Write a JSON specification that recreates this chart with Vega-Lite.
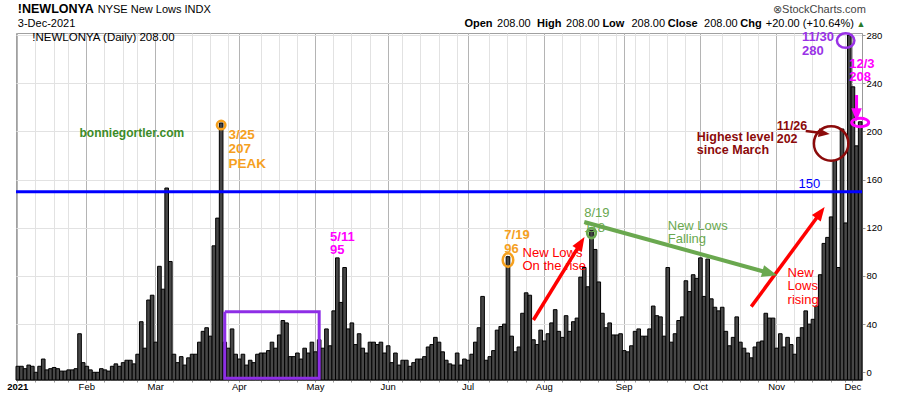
{
"$schema": "https://vega.github.io/schema/vega-lite/v6.json",
"width": 846, "height": 347,
"autosize": {"type": "none"},
"padding": {"left": 16, "top": 33, "right": 38, "bottom": 16},
"background": "#ffffff",
"params": [{"name": "ms", "value": ["2021-01-04","2021-02-01","2021-03-01","2021-04-01","2021-05-03","2021-06-01","2021-07-01","2021-08-02","2021-09-01","2021-10-01","2021-11-01","2021-12-01"]}],
"config": {"font": "Liberation Sans", "view": {"stroke": "#a0a0a0", "strokeWidth": 1}},
"datasets": {
"bars": [
{"d":"2021-01-04","v":5},{"d":"2021-01-05","v":5},{"d":"2021-01-06","v":3},{"d":"2021-01-07","v":6},{"d":"2021-01-08","v":5},
{"d":"2021-01-11","v":0},{"d":"2021-01-12","v":5},{"d":"2021-01-13","v":11},{"d":"2021-01-14","v":2},{"d":"2021-01-15","v":3},
{"d":"2021-01-19","v":4},{"d":"2021-01-20","v":3},{"d":"2021-01-21","v":1},{"d":"2021-01-22","v":1},
{"d":"2021-01-25","v":2},{"d":"2021-01-26","v":2},{"d":"2021-01-27","v":3},{"d":"2021-01-28","v":32},{"d":"2021-01-29","v":8},
{"d":"2021-02-01","v":5},{"d":"2021-02-02","v":2},{"d":"2021-02-03","v":0},{"d":"2021-02-04","v":0},{"d":"2021-02-05","v":3},
{"d":"2021-02-08","v":2},{"d":"2021-02-09","v":1},{"d":"2021-02-10","v":5},{"d":"2021-02-11","v":7},{"d":"2021-02-12","v":5},
{"d":"2021-02-16","v":8},{"d":"2021-02-17","v":10},{"d":"2021-02-18","v":10},{"d":"2021-02-19","v":7},
{"d":"2021-02-22","v":15},{"d":"2021-02-23","v":42},{"d":"2021-02-24","v":20},{"d":"2021-02-25","v":60},{"d":"2021-02-26","v":64},
{"d":"2021-03-01","v":25},{"d":"2021-03-02","v":88},{"d":"2021-03-03","v":69},{"d":"2021-03-04","v":153},{"d":"2021-03-05","v":92},
{"d":"2021-03-08","v":15},{"d":"2021-03-09","v":8},{"d":"2021-03-10","v":13},{"d":"2021-03-11","v":6},{"d":"2021-03-12","v":12},
{"d":"2021-03-15","v":15},{"d":"2021-03-16","v":15},{"d":"2021-03-17","v":25},{"d":"2021-03-18","v":34},{"d":"2021-03-19","v":37},
{"d":"2021-03-22","v":30},{"d":"2021-03-23","v":105},{"d":"2021-03-24","v":128},{"d":"2021-03-25","v":207},{"d":"2021-03-26","v":25},
{"d":"2021-03-29","v":20},{"d":"2021-03-30","v":36},{"d":"2021-03-31","v":15},
{"d":"2021-04-01","v":11},{"d":"2021-04-05","v":15},{"d":"2021-04-06","v":6},{"d":"2021-04-07","v":10},{"d":"2021-04-08","v":8},{"d":"2021-04-09","v":15},
{"d":"2021-04-12","v":16},{"d":"2021-04-13","v":16},{"d":"2021-04-14","v":18},{"d":"2021-04-15","v":25},{"d":"2021-04-16","v":20},
{"d":"2021-04-19","v":31},{"d":"2021-04-20","v":43},{"d":"2021-04-21","v":41},{"d":"2021-04-22","v":13},{"d":"2021-04-23","v":13},
{"d":"2021-04-26","v":16},{"d":"2021-04-27","v":11},{"d":"2021-04-28","v":20},{"d":"2021-04-29","v":16},{"d":"2021-04-30","v":25},
{"d":"2021-05-03","v":17},{"d":"2021-05-04","v":27},{"d":"2021-05-05","v":20},{"d":"2021-05-06","v":36},{"d":"2021-05-07","v":22},
{"d":"2021-05-10","v":51},{"d":"2021-05-11","v":95},{"d":"2021-05-12","v":58},{"d":"2021-05-13","v":87},{"d":"2021-05-14","v":36},
{"d":"2021-05-17","v":41},{"d":"2021-05-18","v":23},{"d":"2021-05-19","v":32},{"d":"2021-05-20","v":20},{"d":"2021-05-21","v":16},
{"d":"2021-05-24","v":25},{"d":"2021-05-25","v":25},{"d":"2021-05-26","v":23},{"d":"2021-05-27","v":25},{"d":"2021-05-28","v":16},
{"d":"2021-06-01","v":22},{"d":"2021-06-02","v":8},{"d":"2021-06-03","v":16},{"d":"2021-06-04","v":6},
{"d":"2021-06-07","v":10},{"d":"2021-06-08","v":10},{"d":"2021-06-09","v":5},{"d":"2021-06-10","v":8},{"d":"2021-06-11","v":11},
{"d":"2021-06-14","v":11},{"d":"2021-06-15","v":13},{"d":"2021-06-16","v":21},{"d":"2021-06-17","v":23},{"d":"2021-06-18","v":29},
{"d":"2021-06-21","v":25},{"d":"2021-06-22","v":17},{"d":"2021-06-23","v":10},{"d":"2021-06-24","v":7},{"d":"2021-06-25","v":6},
{"d":"2021-06-28","v":16},{"d":"2021-06-29","v":6},{"d":"2021-06-30","v":11},
{"d":"2021-07-01","v":10},{"d":"2021-07-02","v":15},{"d":"2021-07-06","v":25},{"d":"2021-07-07","v":37},{"d":"2021-07-08","v":63},{"d":"2021-07-09","v":10},
{"d":"2021-07-12","v":13},{"d":"2021-07-13","v":18},{"d":"2021-07-14","v":35},{"d":"2021-07-15","v":38},{"d":"2021-07-16","v":40},
{"d":"2021-07-19","v":96},{"d":"2021-07-20","v":30},{"d":"2021-07-21","v":17},{"d":"2021-07-22","v":21},{"d":"2021-07-23","v":49},
{"d":"2021-07-26","v":66},{"d":"2021-07-27","v":64},{"d":"2021-07-28","v":27},{"d":"2021-07-29","v":23},{"d":"2021-07-30","v":35},
{"d":"2021-08-02","v":26},{"d":"2021-08-03","v":32},{"d":"2021-08-04","v":41},{"d":"2021-08-05","v":52},{"d":"2021-08-06","v":34},
{"d":"2021-08-09","v":29},{"d":"2021-08-10","v":47},{"d":"2021-08-11","v":34},{"d":"2021-08-12","v":42},{"d":"2021-08-13","v":45},
{"d":"2021-08-16","v":79},{"d":"2021-08-17","v":87},{"d":"2021-08-18","v":71},{"d":"2021-08-19","v":118},{"d":"2021-08-20","v":102},
{"d":"2021-08-23","v":75},{"d":"2021-08-24","v":49},{"d":"2021-08-25","v":37},{"d":"2021-08-26","v":41},{"d":"2021-08-27","v":31},
{"d":"2021-08-30","v":31},{"d":"2021-08-31","v":32},
{"d":"2021-09-01","v":18},{"d":"2021-09-02","v":17},{"d":"2021-09-03","v":22},
{"d":"2021-09-07","v":34},{"d":"2021-09-08","v":36},{"d":"2021-09-09","v":30},{"d":"2021-09-10","v":30},
{"d":"2021-09-13","v":36},{"d":"2021-09-14","v":55},{"d":"2021-09-15","v":47},{"d":"2021-09-16","v":46},{"d":"2021-09-17","v":30},
{"d":"2021-09-20","v":87},{"d":"2021-09-21","v":25},{"d":"2021-09-22","v":32},{"d":"2021-09-23","v":43},{"d":"2021-09-24","v":46},
{"d":"2021-09-27","v":76},{"d":"2021-09-28","v":67},{"d":"2021-09-29","v":81},{"d":"2021-09-30","v":78},
{"d":"2021-10-01","v":95},{"d":"2021-10-04","v":63},{"d":"2021-10-05","v":94},{"d":"2021-10-06","v":61},{"d":"2021-10-07","v":54},{"d":"2021-10-08","v":51},
{"d":"2021-10-11","v":54},{"d":"2021-10-12","v":34},{"d":"2021-10-13","v":22},{"d":"2021-10-14","v":29},{"d":"2021-10-15","v":46},
{"d":"2021-10-18","v":25},{"d":"2021-10-19","v":20},{"d":"2021-10-20","v":16},{"d":"2021-10-21","v":12},{"d":"2021-10-22","v":21},
{"d":"2021-10-25","v":25},{"d":"2021-10-26","v":26},{"d":"2021-10-27","v":49},{"d":"2021-10-28","v":45},{"d":"2021-10-29","v":45},
{"d":"2021-11-01","v":20},{"d":"2021-11-02","v":32},{"d":"2021-11-03","v":21},{"d":"2021-11-04","v":29},{"d":"2021-11-05","v":23},
{"d":"2021-11-08","v":15},{"d":"2021-11-09","v":29},{"d":"2021-11-10","v":37},{"d":"2021-11-11","v":51},{"d":"2021-11-12","v":40},
{"d":"2021-11-15","v":44},{"d":"2021-11-16","v":55},{"d":"2021-11-17","v":81},{"d":"2021-11-18","v":107},{"d":"2021-11-19","v":112},
{"d":"2021-11-22","v":129},{"d":"2021-11-23","v":176},{"d":"2021-11-24","v":87},{"d":"2021-11-26","v":202},
{"d":"2021-11-29","v":124},{"d":"2021-11-30","v":280},
{"d":"2021-12-01","v":237},{"d":"2021-12-02","v":188},{"d":"2021-12-03","v":208}
],
"notes": [
{"g":"t_title","d":"2021-01-04","y":298.1,"t":"!NEWLONYA"},
{"g":"t_sub","d":"2021-02-04","y":298.1,"t":"NYSE New Lows INDX"},
{"g":"t_sub","d":"2021-01-04","y":287,"t":"3-Dec-2021"},
{"g":"t_sc","d":"2021-10-29","y":298.3,"t":"⊗StockCharts.com"},
{"g":"t_hb","d":"2021-06-30","y":287,"t":"Open"},
{"g":"t_hv","d":"2021-07-14","y":287,"t":"208.00"},
{"g":"t_hb","d":"2021-07-29","y":287,"t":"High"},
{"g":"t_hv","d":"2021-08-10","y":287,"t":"208.00"},
{"g":"t_hb","d":"2021-08-24","y":287,"t":"Low"},
{"g":"t_hv","d":"2021-09-03","y":287,"t":"208.00"},
{"g":"t_hb","d":"2021-09-20","y":287,"t":"Close"},
{"g":"t_hv","d":"2021-10-04","y":287,"t":"208.00"},
{"g":"t_hb","d":"2021-10-18","y":287,"t":"Chg"},
{"g":"t_hv","d":"2021-10-27","y":287,"t":"+20.00 (+10.64%)"},
{"g":"t_up","d":"2021-12-02","y":287,"t":"▲"},
{"g":"t_leg","d":"2021-01-08","y":275.3,"t":"!NEWLONYA (Daily) 208.00"},
{"g":"t_site","d":"2021-01-28","y":195.3,"t":"bonniegortler.com"},
{"g":"t_peak","d":"2021-03-29","y":194,"t":"3/25"},
{"g":"t_peak","d":"2021-03-29","y":182,"t":"207"},
{"g":"t_peak","d":"2021-03-29","y":170,"t":"PEAK"},
{"g":"t_511","d":"2021-05-07","y":109.2,"t":"5/11"},
{"g":"t_511","d":"2021-05-07","y":97.8,"t":"95"},
{"g":"t_719","d":"2021-07-16","y":110.7,"t":"7/19"},
{"g":"t_719","d":"2021-07-16","y":99,"t":"96"},
{"g":"t_rise","d":"2021-07-23","y":96,"t":"New Lows"},
{"g":"t_rise","d":"2021-07-23","y":84.6,"t":"On the rise"},
{"g":"t_819","d":"2021-08-17","y":128.9,"t":"8/19"},
{"g":"t_819","d":"2021-08-17","y":116.5,"t":"118"},
{"g":"t_fall","d":"2021-09-20","y":118.1,"t":"New Lows"},
{"g":"t_fall","d":"2021-09-20","y":107.1,"t":"Falling"},
{"g":"t_rise","d":"2021-11-04","y":79.3,"t":"New"},
{"g":"t_rise","d":"2021-11-04","y":68,"t":"Lows"},
{"g":"t_rise","d":"2021-11-04","y":56.7,"t":"rising"},
{"g":"t_1126","d":"2021-11-01","y":201.1,"t":"11/26"},
{"g":"t_1126","d":"2021-11-01","y":190.1,"t":"202"},
{"g":"t_1126","d":"2021-09-30","y":192.3,"t":"Highest level"},
{"g":"t_1126","d":"2021-09-30","y":181,"t":"since March"},
{"g":"t_1130","d":"2021-11-10","y":275,"t":"11/30"},
{"g":"t_1130","d":"2021-11-10","y":263.2,"t":"280"},
{"g":"t_123","d":"2021-11-30","y":253,"t":"12/3"},
{"g":"t_123","d":"2021-11-30","y":242,"t":"208"},
{"g":"t_150","d":"2021-11-09","y":153,"t":"150"}
],
"arrows": [
{"id":"a_r1","o":1,"d":"2021-07-28","v":43.4},{"id":"a_r1","o":2,"d":"2021-08-16","v":107.1},
{"id":"a_g","o":1,"d":"2021-08-17","v":124.8},{"id":"a_g","o":2,"d":"2021-10-28","v":82.4},
{"id":"a_r2","o":1,"d":"2021-10-21","v":54.5},{"id":"a_r2","o":2,"d":"2021-11-17","v":132.3},
{"id":"a_dr","o":1,"d":"2021-11-11","v":200.4},{"id":"a_dr","o":2,"d":"2021-11-18","v":198.4},
{"id":"a_m","o":1,"d":"2021-12-02","v":230.2},{"id":"a_m","o":2,"d":"2021-12-02","v":216},
{"id":"a_box","o":1,"d":"2021-03-26","v":50.3},{"id":"a_box","o":2,"d":"2021-05-04","v":50.3},{"id":"a_box","o":3,"d":"2021-05-04","v":-5},{"id":"a_box","o":4,"d":"2021-03-26","v":-5},{"id":"a_box","o":5,"d":"2021-03-26","v":50.3}
],
"heads": [
{"id":"h_r1","d":"2021-08-16","v":107.1},{"id":"h_g","d":"2021-10-28","v":82.4},{"id":"h_r2","d":"2021-11-17","v":132.3},{"id":"h_dr","d":"2021-11-18","v":198.4},{"id":"h_m","d":"2021-12-02","v":214}
],
"rings": [
{"id":"c_peak","d":"2021-03-25","v":205.3},{"id":"c_719","d":"2021-07-19","v":93.2},{"id":"c_819","d":"2021-08-19","v":115.6},{"id":"c_1126","d":"2021-11-22","v":190},{"id":"c_1130","d":"2021-11-29","v":275.4},{"id":"c_123","d":"2021-12-03","v":207.4}
]
},
"layer": [
{
"data": {"name": "bars"},
"mark": {"type": "bar", "fill": "#474747", "stroke": "#000000", "strokeWidth": 1},
"encoding": {
"x": {"field": "d", "type": "ordinal", "title": null, "scale": {"type": "band", "paddingInner": 0, "paddingOuter": 0},
"axis": {"orient": "bottom", "title": null,
"values": ["2021-01-04","2021-01-11","2021-01-19","2021-01-25","2021-02-01","2021-02-08","2021-02-16","2021-02-22","2021-03-01","2021-03-08","2021-03-15","2021-03-22","2021-03-29","2021-04-01","2021-04-12","2021-04-19","2021-04-26","2021-05-03","2021-05-10","2021-05-17","2021-05-24","2021-06-01","2021-06-07","2021-06-14","2021-06-21","2021-06-28","2021-07-01","2021-07-12","2021-07-19","2021-07-26","2021-08-02","2021-08-09","2021-08-16","2021-08-23","2021-08-30","2021-09-01","2021-09-07","2021-09-13","2021-09-20","2021-09-27","2021-10-01","2021-10-11","2021-10-18","2021-10-25","2021-11-01","2021-11-08","2021-11-15","2021-11-22","2021-11-29","2021-12-01"],
"labelExpr": "indexof(ms, datum.value) < 0 ? '' : ['2021','Feb','Mar','Apr','May','Jun','Jul','Aug','Sep','Oct','Nov','Dec'][toNumber(substring(datum.value,5,7))-1]",
"labelAngle": 0, "labelFontSize": 9.5, "labelColor": "#000000", "labelPadding": -1, "labelOverlap": false,
"labelFontWeight": {"condition": {"test": "datum.value == '2021-01-04'", "value": "bold"}, "value": "normal"},
"grid": true,
"gridColor": {"condition": {"test": "indexof(ms, datum.value) >= 0", "value": "#b4b4b4"}, "value": "#e2e2e2"},
"ticks": true, "tickSize": 2, "tickColor": "#999999", "domainColor": "#999999"}},
"y": {"field": "v", "type": "quantitative", "title": null, "scale": {"domain": [-6.4, 281.7], "nice": false, "zero": false},
"axis": {"orient": "right", "title": null, "values": [0,20,40,60,80,100,120,140,160,180,200,220,240,260,280], "labelFontSize": 9.5, "labelColor": "#000000", "labelPadding": 1, "tickSize": 3, "tickColor": "#999999", "domainColor": "#999999", "grid": true, "gridColor": "#e2e2e2"}},
"y2": {"datum": -6.4}
}
},
{
"data": {"values": [{}]},
"mark": {"type": "rule", "color": "#0000ff", "strokeWidth": 3},
"encoding": {"y": {"datum": 150}}
},
{
"data": {"name": "rings"},
"mark": {"type": "point", "filled": false, "opacity": 1},
"encoding": {
"x": {"field": "d", "type": "ordinal", "title": null},
"y": {"field": "v", "type": "quantitative", "title": null},
"color": {"field": "id", "type": "nominal", "legend": null, "scale": {"domain": ["c_peak","c_719","c_819","c_1126","c_1130","c_123"], "range": ["#f5a01e","#f5a01e","#6aa84f","#8b0a0a","#9932e6","#ff00ff"]}},
"shape": {"field": "id", "type": "nominal", "legend": null, "scale": {"domain": ["c_peak","c_719","c_819","c_1126","c_1130","c_123"], "range": ["circle","M 0 -1 A 0.78 1 0 1 0 0 1 A 0.78 1 0 1 0 0 -1 Z","M 0 -1 A 0.85 1 0 1 0 0 1 A 0.85 1 0 1 0 0 -1 Z","circle","M -1 0 A 1 0.83 0 1 0 1 0 A 1 0.83 0 1 0 -1 0 Z","M -1 0 A 1 0.5 0 1 0 1 0 A 1 0.5 0 1 0 -1 0 Z"]}},
"size": {"condition": [{"test": "datum.id == 'c_peak'", "value": 72},{"test": "datum.id == 'c_719'", "value": 182},{"test": "datum.id == 'c_819'", "value": 100},{"test": "datum.id == 'c_1126'", "value": 1190},{"test": "datum.id == 'c_1130'", "value": 306}], "value": 289},
"strokeWidth": {"condition": [{"test": "datum.id == 'c_123'", "value": 3},{"test": "datum.id == 'c_819'", "value": 2.8}], "value": 2.5}
}
},
{
"data": {"name": "notes"},
"transform": [{"filter": {"field": "g", "oneOf": ["t_title","t_hb","t_site","t_peak","t_511","t_719","t_1126","t_1130","t_123"]}}],
"mark": {"type": "text", "fontWeight": "bold", "align": "left", "baseline": "alphabetic"},
"encoding": {
"x": {"field": "d", "type": "ordinal", "title": null},
"y": {"field": "y", "type": "quantitative", "title": null},
"text": {"field": "t"},
"color": {"field": "g", "type": "nominal", "legend": null, "scale": {"domain": ["t_title","t_hb","t_site","t_peak","t_511","t_719","t_1126","t_1130","t_123"], "range": ["#000000","#000000","#3c8c28","#f5a01e","#ff00ff","#f5a01e","#8b0a0a","#9932e6","#ff00ff"]}},
"size": {"condition": [{"test": "datum.g == 't_title'", "value": 12.5},{"test": "datum.g == 't_hb'", "value": 11},{"test": "datum.g == 't_site'", "value": 12},{"test": "datum.g == 't_peak'", "value": 13.5},{"test": "datum.g == 't_1126'", "value": 12.5}], "value": 13}
}
},
{
"data": {"name": "notes"},
"transform": [{"filter": {"field": "g", "oneOf": ["t_sub","t_hv","t_up","t_sc","t_leg","t_rise","t_819","t_fall","t_150"]}}],
"mark": {"type": "text", "fontWeight": "normal", "align": "left", "baseline": "alphabetic"},
"encoding": {
"x": {"field": "d", "type": "ordinal", "title": null},
"y": {"field": "y", "type": "quantitative", "title": null},
"text": {"field": "t"},
"color": {"field": "g", "type": "nominal", "legend": null, "scale": {"domain": ["t_sub","t_hv","t_up","t_sc","t_leg","t_rise","t_819","t_fall","t_150"], "range": ["#000000","#000000","#2a7a2a","#444444","#000000","#ff0000","#6aa84f","#6aa84f","#0000ff"]}},
"size": {"condition": [{"test": "indexof(['t_sub','t_hv','t_sc'], datum.g) >= 0", "value": 11},{"test": "datum.g == 't_up'", "value": 9},{"test": "datum.g == 't_leg'", "value": 11.5}], "value": 13}
}
},
{
"data": {"name": "arrows"},
"mark": {"type": "line", "strokeCap": "butt", "strokeJoin": "miter"},
"encoding": {
"x": {"field": "d", "type": "ordinal", "title": null},
"y": {"field": "v", "type": "quantitative", "title": null},
"detail": {"field": "id"},
"order": {"field": "o", "type": "quantitative"},
"color": {"field": "id", "type": "nominal", "legend": null, "scale": {"domain": ["a_r1","a_g","a_r2","a_dr","a_m","a_box"], "range": ["#ff0000","#6aa84f","#ff0000","#8b0a0a","#ff00ff","#8e2ee6"]}},
"strokeWidth": {"condition": [{"test": "datum.id == 'a_g'", "value": 4},{"test": "datum.id == 'a_dr'", "value": 2.5},{"test": "datum.id == 'a_m' || datum.id == 'a_box'", "value": 3}], "value": 3.5}
}
},
{
"data": {"name": "heads"},
"mark": {"type": "point", "shape": "M 0 -1 L 0.75 0.9 L -0.75 0.9 Z", "filled": true, "opacity": 1, "strokeWidth": 0},
"encoding": {
"x": {"field": "d", "type": "ordinal", "title": null},
"y": {"field": "v", "type": "quantitative", "title": null},
"color": {"field": "id", "type": "nominal", "legend": null, "scale": {"domain": ["h_r1","h_g","h_r2","h_dr","h_m"], "range": ["#ff0000","#6aa84f","#ff0000","#8b0a0a","#ff00ff"]}},
"angle": {"condition": [{"test": "datum.id == 'h_r1'", "value": 31.6},{"test": "datum.id == 'h_g'", "value": 105.4},{"test": "datum.id == 'h_r2'", "value": 36.4},{"test": "datum.id == 'h_dr'", "value": 97.2}], "value": 180},
"size": {"condition": [{"test": "datum.id == 'h_g'", "value": 256},{"test": "datum.id == 'h_dr'", "value": 140},{"test": "datum.id == 'h_m'", "value": 196}], "value": 217}
}
}
],
"resolve": {"scale": {"color": "independent", "shape": "independent"}}
}
